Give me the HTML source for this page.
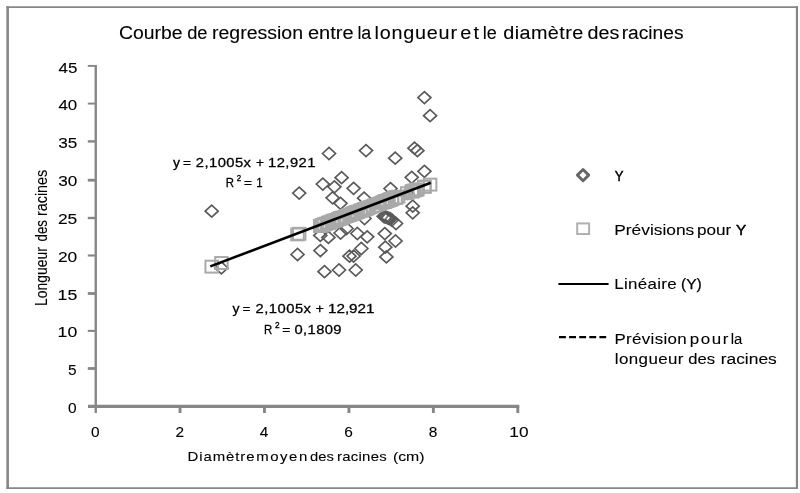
<!DOCTYPE html>
<html><head><meta charset="utf-8"><title>Courbe de regression</title>
<style>html,body{margin:0;padding:0;background:#fff;}body{width:800px;height:493px;overflow:hidden;}svg{display:block;filter:grayscale(1);}text{font-family:"Liberation Sans",sans-serif;fill:#000;stroke:#000;stroke-width:0.1px;}g.b text{stroke-width:inherit;}</style>
</head><body>
<svg width="800" height="493" viewBox="0 0 800 493">
<rect x="0" y="0" width="800" height="493" fill="#fff"/>
<g stroke="#868686"><line x1="7.65" y1="6.2" x2="7.65" y2="489" stroke-width="2.6"/><line x1="796.95" y1="6.2" x2="796.95" y2="489" stroke-width="2.2"/><line x1="6.4" y1="7.1" x2="798" y2="7.1" stroke-width="1.9"/><line x1="6.4" y1="488.1" x2="798" y2="488.1" stroke-width="1.8"/></g>
<g stroke="#868686" fill="none">
<line x1="95.75" y1="64.95" x2="95.75" y2="413" stroke-width="2.4"/>
<line x1="88" y1="406.4" x2="519.3" y2="406.4" stroke-width="3.2"/>
<line x1="87.8" y1="65.90" x2="95.6" y2="65.90" stroke-width="1.9"/>
<line x1="87.8" y1="103.60" x2="95.6" y2="103.60" stroke-width="1.9"/>
<line x1="87.8" y1="141.40" x2="95.6" y2="141.40" stroke-width="2.4"/>
<line x1="87.8" y1="180.20" x2="95.6" y2="180.20" stroke-width="2.8"/>
<line x1="87.8" y1="218.00" x2="95.6" y2="218.00" stroke-width="2.4"/>
<line x1="87.8" y1="255.50" x2="95.6" y2="255.50" stroke-width="2.1"/>
<line x1="87.8" y1="293.50" x2="95.6" y2="293.50" stroke-width="2.8"/>
<line x1="87.8" y1="330.90" x2="95.6" y2="330.90" stroke-width="2.1"/>
<line x1="87.8" y1="368.50" x2="95.6" y2="368.50" stroke-width="2.8"/>
<line x1="180.04" y1="406.4" x2="180.04" y2="413" stroke-width="2.9"/>
<line x1="264.48" y1="406.4" x2="264.48" y2="413" stroke-width="2.9"/>
<line x1="348.92" y1="406.4" x2="348.92" y2="413" stroke-width="2.9"/>
<line x1="433.36" y1="406.4" x2="433.36" y2="413" stroke-width="2.9"/>
<line x1="517.80" y1="406.4" x2="517.80" y2="413" stroke-width="2.9"/>
</g>
<g fill="none" stroke="#5a5a5a" stroke-width="1.7" stroke-linejoin="miter">
<path d="M205.2 211.2L211.7 205.2L218.2 211.2L211.7 217.2Z"/>
<path d="M322.5 153.5L329.0 147.5L335.5 153.5L329.0 159.5Z"/>
<path d="M359.5 150.6L366.0 144.6L372.5 150.6L366.0 156.6Z"/>
<path d="M388.7 158.2L395.2 152.2L401.7 158.2L395.2 164.2Z"/>
<path d="M335.1 177.7L341.6 171.7L348.1 177.7L341.6 183.7Z"/>
<path d="M316.3 184.1L322.8 178.1L329.3 184.1L322.8 190.1Z"/>
<path d="M327.9 186.8L334.4 180.8L340.9 186.8L334.4 192.8Z"/>
<path d="M292.7 193.1L299.2 187.1L305.7 193.1L299.2 199.1Z"/>
<path d="M347.1 188.3L353.6 182.3L360.1 188.3L353.6 194.3Z"/>
<path d="M326.1 197.8L332.6 191.8L339.1 197.8L332.6 203.8Z"/>
<path d="M357.6 198.2L364.1 192.2L370.6 198.2L364.1 204.2Z"/>
<path d="M384.0 188.6L390.5 182.6L397.0 188.6L390.5 194.6Z"/>
<path d="M417.9 97.6L424.4 91.6L430.9 97.6L424.4 103.6Z"/>
<path d="M423.6 115.7L430.1 109.7L436.6 115.7L430.1 121.7Z"/>
<path d="M408.0 148.2L414.5 142.2L421.0 148.2L414.5 154.2Z"/>
<path d="M410.9 150.7L417.4 144.7L423.9 150.7L417.4 156.7Z"/>
<path d="M417.9 171.3L424.4 165.3L430.9 171.3L424.4 177.3Z"/>
<path d="M405.2 177.3L411.7 171.3L418.2 177.3L411.7 183.3Z"/>
<path d="M334.0 203.3L340.5 197.3L347.0 203.3L340.5 209.3Z"/>
<path d="M378.3 216.9L384.8 210.9L391.3 216.9L384.8 222.9Z"/>
<path d="M381.4 217.9L387.9 211.9L394.4 217.9L387.9 223.9Z"/>
<path d="M383.9 218.9L390.4 212.9L396.9 218.9L390.4 224.9Z"/>
<path d="M389.5 223.5L396.0 217.5L402.5 223.5L396.0 229.5Z"/>
<path d="M406.2 206.2L412.7 200.2L419.2 206.2L412.7 212.2Z"/>
<path d="M406.2 212.8L412.7 206.8L419.2 212.8L412.7 218.8Z"/>
<path d="M313.8 235.4L320.3 229.4L326.8 235.4L320.3 241.4Z"/>
<path d="M321.9 237.4L328.4 231.4L334.9 237.4L328.4 243.4Z"/>
<path d="M334.1 233.0L340.6 227.0L347.1 233.0L340.6 239.0Z"/>
<path d="M340.0 228.5L346.5 222.5L353.0 228.5L346.5 234.5Z"/>
<path d="M350.8 233.5L357.3 227.5L363.8 233.5L357.3 239.5Z"/>
<path d="M360.7 236.8L367.2 230.8L373.7 236.8L367.2 242.8Z"/>
<path d="M358.0 218.5L364.5 212.5L371.0 218.5L364.5 224.5Z"/>
<path d="M378.3 233.6L384.8 227.6L391.3 233.6L384.8 239.6Z"/>
<path d="M389.0 241.0L395.5 235.0L402.0 241.0L395.5 247.0Z"/>
<path d="M378.8 247.2L385.3 241.2L391.8 247.2L385.3 253.2Z"/>
<path d="M379.9 256.9L386.4 250.9L392.9 256.9L386.4 262.9Z"/>
<path d="M354.8 248.5L361.3 242.5L367.8 248.5L361.3 254.5Z"/>
<path d="M313.9 250.6L320.4 244.6L326.9 250.6L320.4 256.6Z"/>
<path d="M291.0 254.5L297.5 248.5L304.0 254.5L297.5 260.5Z"/>
<path d="M318.0 271.7L324.5 265.7L331.0 271.7L324.5 277.7Z"/>
<path d="M332.5 270.0L339.0 264.0L345.5 270.0L339.0 276.0Z"/>
<path d="M349.2 270.0L355.7 264.0L362.2 270.0L355.7 276.0Z"/>
<path d="M343.0 256.2L349.5 250.2L356.0 256.2L349.5 262.2Z"/>
<path d="M347.1 256.1L353.6 250.1L360.1 256.1L353.6 262.1Z"/>
<path d="M214.9 267.9L221.4 261.9L227.9 267.9L221.4 273.9Z"/>
<path d="M377.1 216.3L383.6 210.3L390.1 216.3L383.6 222.3Z"/>
<path d="M379.8 217.4L386.3 211.4L392.8 217.4L386.3 223.4Z"/>
<path d="M382.6 218.5L389.1 212.5L395.6 218.5L389.1 224.5Z"/>
<path d="M385.3 220.0L391.8 214.0L398.3 220.0L391.8 226.0Z"/>
<path d="M400.8 193.4L407.3 187.4L413.8 193.4L407.3 199.4Z"/>
</g>
<g stroke="#fff" stroke-linecap="butt"><line x1="383.6" y1="218.4" x2="386.4" y2="215.2" stroke-width="2"/><line x1="387.0" y1="219.7" x2="389.4" y2="217.0" stroke-width="1.8"/></g>
<g fill="none" stroke="#a9a9a9" stroke-width="2">
<rect x="205.45" y="260.70" width="12.5" height="11.9"/>
<rect x="215.15" y="257.06" width="12.5" height="11.9"/>
<rect x="291.25" y="228.47" width="12.5" height="11.9"/>
<rect x="292.95" y="227.83" width="12.5" height="11.9"/>
<rect x="313.95" y="219.95" width="12.5" height="11.9"/>
<rect x="314.05" y="219.91" width="12.5" height="11.9"/>
<rect x="314.15" y="219.87" width="12.5" height="11.9"/>
<rect x="315.95" y="219.20" width="12.5" height="11.9"/>
<rect x="316.55" y="218.97" width="12.5" height="11.9"/>
<rect x="317.95" y="218.44" width="12.5" height="11.9"/>
<rect x="318.25" y="218.33" width="12.5" height="11.9"/>
<rect x="319.95" y="217.69" width="12.5" height="11.9"/>
<rect x="321.95" y="216.94" width="12.5" height="11.9"/>
<rect x="322.15" y="216.87" width="12.5" height="11.9"/>
<rect x="322.75" y="216.64" width="12.5" height="11.9"/>
<rect x="323.95" y="216.19" width="12.5" height="11.9"/>
<rect x="325.95" y="215.44" width="12.5" height="11.9"/>
<rect x="326.35" y="215.29" width="12.5" height="11.9"/>
<rect x="327.95" y="214.69" width="12.5" height="11.9"/>
<rect x="328.15" y="214.61" width="12.5" height="11.9"/>
<rect x="329.95" y="213.94" width="12.5" height="11.9"/>
<rect x="331.95" y="213.19" width="12.5" height="11.9"/>
<rect x="332.75" y="212.89" width="12.5" height="11.9"/>
<rect x="333.95" y="212.44" width="12.5" height="11.9"/>
<rect x="334.25" y="212.32" width="12.5" height="11.9"/>
<rect x="334.35" y="212.28" width="12.5" height="11.9"/>
<rect x="335.35" y="211.91" width="12.5" height="11.9"/>
<rect x="335.95" y="211.68" width="12.5" height="11.9"/>
<rect x="337.95" y="210.93" width="12.5" height="11.9"/>
<rect x="339.95" y="210.18" width="12.5" height="11.9"/>
<rect x="340.25" y="210.07" width="12.5" height="11.9"/>
<rect x="341.95" y="209.43" width="12.5" height="11.9"/>
<rect x="343.25" y="208.94" width="12.5" height="11.9"/>
<rect x="343.95" y="208.68" width="12.5" height="11.9"/>
<rect x="345.95" y="207.93" width="12.5" height="11.9"/>
<rect x="347.35" y="207.40" width="12.5" height="11.9"/>
<rect x="347.35" y="207.40" width="12.5" height="11.9"/>
<rect x="347.95" y="207.18" width="12.5" height="11.9"/>
<rect x="349.45" y="206.61" width="12.5" height="11.9"/>
<rect x="349.95" y="206.43" width="12.5" height="11.9"/>
<rect x="351.05" y="206.01" width="12.5" height="11.9"/>
<rect x="351.95" y="205.67" width="12.5" height="11.9"/>
<rect x="353.95" y="204.92" width="12.5" height="11.9"/>
<rect x="355.05" y="204.51" width="12.5" height="11.9"/>
<rect x="355.95" y="204.17" width="12.5" height="11.9"/>
<rect x="357.85" y="203.46" width="12.5" height="11.9"/>
<rect x="357.95" y="203.42" width="12.5" height="11.9"/>
<rect x="358.25" y="203.31" width="12.5" height="11.9"/>
<rect x="359.75" y="202.74" width="12.5" height="11.9"/>
<rect x="359.95" y="202.67" width="12.5" height="11.9"/>
<rect x="360.95" y="202.29" width="12.5" height="11.9"/>
<rect x="361.95" y="201.92" width="12.5" height="11.9"/>
<rect x="363.95" y="201.17" width="12.5" height="11.9"/>
<rect x="365.95" y="200.42" width="12.5" height="11.9"/>
<rect x="367.95" y="199.66" width="12.5" height="11.9"/>
<rect x="369.95" y="198.91" width="12.5" height="11.9"/>
<rect x="371.95" y="198.16" width="12.5" height="11.9"/>
<rect x="373.95" y="197.41" width="12.5" height="11.9"/>
<rect x="375.95" y="196.66" width="12.5" height="11.9"/>
<rect x="377.35" y="196.13" width="12.5" height="11.9"/>
<rect x="377.95" y="195.91" width="12.5" height="11.9"/>
<rect x="378.55" y="195.68" width="12.5" height="11.9"/>
<rect x="378.55" y="195.68" width="12.5" height="11.9"/>
<rect x="379.05" y="195.50" width="12.5" height="11.9"/>
<rect x="379.95" y="195.16" width="12.5" height="11.9"/>
<rect x="380.05" y="195.12" width="12.5" height="11.9"/>
<rect x="380.15" y="195.08" width="12.5" height="11.9"/>
<rect x="381.65" y="194.52" width="12.5" height="11.9"/>
<rect x="381.95" y="194.41" width="12.5" height="11.9"/>
<rect x="382.85" y="194.07" width="12.5" height="11.9"/>
<rect x="383.95" y="193.66" width="12.5" height="11.9"/>
<rect x="384.15" y="193.58" width="12.5" height="11.9"/>
<rect x="384.25" y="193.54" width="12.5" height="11.9"/>
<rect x="385.55" y="193.05" width="12.5" height="11.9"/>
<rect x="385.95" y="192.90" width="12.5" height="11.9"/>
<rect x="387.95" y="192.15" width="12.5" height="11.9"/>
<rect x="388.95" y="191.78" width="12.5" height="11.9"/>
<rect x="389.25" y="191.66" width="12.5" height="11.9"/>
<rect x="389.75" y="191.48" width="12.5" height="11.9"/>
<rect x="389.95" y="191.40" width="12.5" height="11.9"/>
<rect x="391.95" y="190.65" width="12.5" height="11.9"/>
<rect x="401.05" y="187.23" width="12.5" height="11.9"/>
<rect x="405.45" y="185.58" width="12.5" height="11.9"/>
<rect x="406.45" y="185.20" width="12.5" height="11.9"/>
<rect x="406.45" y="185.20" width="12.5" height="11.9"/>
<rect x="408.25" y="184.53" width="12.5" height="11.9"/>
<rect x="409.95" y="183.89" width="12.5" height="11.9"/>
<rect x="411.15" y="183.44" width="12.5" height="11.9"/>
<rect x="418.15" y="180.81" width="12.5" height="11.9"/>
<rect x="418.15" y="180.81" width="12.5" height="11.9"/>
<rect x="423.85" y="178.67" width="12.5" height="11.9"/>
</g>
<g stroke="#dcdcdc" stroke-width="1.1">
<line x1="319.3" y1="220.3" x2="319.3" y2="222.5"/>
<line x1="319.3" y1="226.8" x2="319.3" y2="229.2"/>
<line x1="324.5" y1="225.0" x2="324.5" y2="227.6"/>
<line x1="336.9" y1="220.2" x2="336.9" y2="223.0"/>
<line x1="341.8" y1="219.1" x2="341.8" y2="221.9"/>
<line x1="353.0" y1="214.9" x2="353.0" y2="217.1"/>
<line x1="365.4" y1="211.2" x2="365.4" y2="213.6"/>
<line x1="387.4" y1="201.4" x2="387.4" y2="204.0"/>
<line x1="382.1" y1="203.1" x2="382.1" y2="204.9"/>
<line x1="368.3" y1="208.5" x2="368.3" y2="210.9"/>
<line x1="365.3" y1="210.7" x2="365.3" y2="212.3"/>
<line x1="375.8" y1="210.4" x2="378.8" y2="210.4"/>
</g>
<g stroke="#fff" stroke-width="1.2">
<line x1="396.4" y1="197.7" x2="396.4" y2="202.2"/>
<line x1="400.1" y1="196.9" x2="400.1" y2="202.4"/>
</g>
<line x1="210.3" y1="266.4" x2="430.8" y2="182.8" stroke="#000" stroke-width="2.6" stroke-linecap="butt"/>
<text id="ti0" x="118.98" y="38.9" font-size="18.0" textLength="63.54" lengthAdjust="spacingAndGlyphs">Courbe</text>
<text id="ti1" x="187.20" y="38.9" font-size="18.0" textLength="20.36" lengthAdjust="spacingAndGlyphs">de</text>
<text id="ti2" x="211.96" y="38.9" font-size="18.0" textLength="91.07" lengthAdjust="spacingAndGlyphs">regression</text>
<text id="ti3" x="307.97" y="38.9" font-size="18.0" textLength="45.56" lengthAdjust="spacingAndGlyphs">entre</text>
<text id="ti4" x="357.41" y="38.9" font-size="18.0" textLength="13.84" lengthAdjust="spacingAndGlyphs">la</text>
<text id="ti5" transform="translate(374.50,38.9) scale(1.100,1)" font-size="18.0" textLength="75.00" lengthAdjust="spacing">longueur</text>
<text id="ti6" transform="translate(460.25,38.9) scale(1.100,1)" font-size="18.0" textLength="17.05" lengthAdjust="spacing">et</text>
<text id="ti7" x="482.83" y="38.9" font-size="18.0" textLength="14.01" lengthAdjust="spacingAndGlyphs">le</text>
<text id="ti8" transform="translate(503.25,38.9) scale(1.100,1)" font-size="18.0" textLength="72.73" lengthAdjust="spacing">diamètre</text>
<text id="ti9" x="587.47" y="38.9" font-size="18.0" textLength="31.80" lengthAdjust="spacingAndGlyphs">des</text>
<text id="ti10" x="621.72" y="38.9" font-size="18.0" textLength="61.80" lengthAdjust="spacingAndGlyphs">racines</text>
<text id="xl0" transform="translate(187.50,460.7) scale(1.100,1)" font-size="13.6" textLength="60.91" lengthAdjust="spacing">Diamètre</text>
<text id="xl1" transform="translate(256.25,460.7) scale(1.100,1)" font-size="13.6" textLength="46.36" lengthAdjust="spacing">moyen</text>
<text id="xl2" x="309.98" y="460.7" font-size="13.6" textLength="23.79" lengthAdjust="spacingAndGlyphs">des</text>
<text id="xl3" transform="translate(337.00,460.7) scale(1.100,1)" font-size="13.6" textLength="45.23" lengthAdjust="spacing">racines</text>
<text id="xl4" x="392.94" y="460.7" font-size="13.6" textLength="31.61" lengthAdjust="spacingAndGlyphs">(cm)</text>
<g class="b" style="stroke-width:0.3px">
<text id="e10" transform="translate(173.00,166.5) scale(1.044,1)" font-size="13.4">y</text>
</g>
<g class="b" style="stroke-width:0.3px">
<text id="e11" transform="translate(183.00,166.5) scale(1.022,1)" font-size="13.4">=</text>
</g>
<g class="b" style="stroke-width:0.3px">
<text id="e12" transform="translate(195.75,166.5) scale(1.100,1)" font-size="13.4" textLength="50.23" lengthAdjust="spacing">2,1005x</text>
</g>
<g class="b" style="stroke-width:0.3px">
<text id="e13" transform="translate(256.00,166.5) scale(1.022,1)" font-size="13.4">+</text>
</g>
<g class="b" style="stroke-width:0.3px">
<text id="e14" transform="translate(268.00,166.5) scale(1.100,1)" font-size="13.4" textLength="43.18" lengthAdjust="spacing">12,921</text>
</g>
<g class="b" style="stroke-width:0.3px">
<text id="e20" transform="translate(225.75,186.8) scale(0.850,1)" font-size="13.4">R</text>
</g>
<g class="b" style="stroke-width:0.3px">
<text id="e21" transform="translate(244.00,186.8) scale(1.022,1)" font-size="13.4">=</text>
</g>
<g class="b" style="stroke-width:0.3px">
<text id="e22" transform="translate(256.25,186.8) scale(0.850,1)" font-size="13.4">1</text>
</g>
<g class="b" style="stroke-width:0.35px">
<text id="e30" transform="translate(236.68,180.6) scale(0.859,1)" font-size="9.2">2</text>
</g>
<g class="b" style="stroke-width:0.3px">
<text id="e40" transform="translate(232.38,313) scale(1.044,1)" font-size="13.4">y</text>
</g>
<g class="b" style="stroke-width:0.3px">
<text id="e41" transform="translate(242.60,313) scale(0.996,1)" font-size="13.4">=</text>
</g>
<g class="b" style="stroke-width:0.3px">
<text id="e42" transform="translate(255.50,313) scale(1.100,1)" font-size="13.4" textLength="50.45" lengthAdjust="spacing">2,1005x</text>
</g>
<g class="b" style="stroke-width:0.3px">
<text id="e43" transform="translate(315.55,313) scale(1.073,1)" font-size="13.4">+</text>
</g>
<g class="b" style="stroke-width:0.3px">
<text id="e44" x="327.97" y="313" font-size="13.4" textLength="46.55" lengthAdjust="spacingAndGlyphs">12,921</text>
</g>
<g class="b" style="stroke-width:0.3px">
<text id="e50" transform="translate(264.00,333.6) scale(0.850,1)" font-size="13.4">R</text>
</g>
<g class="b" style="stroke-width:0.3px">
<text id="e51" transform="translate(282.37,333.6) scale(1.022,1)" font-size="13.4">=</text>
</g>
<g class="b" style="stroke-width:0.3px">
<text id="e52" transform="translate(294.50,333.6) scale(1.100,1)" font-size="13.4" textLength="42.73" lengthAdjust="spacing">0,1809</text>
</g>
<g class="b" style="stroke-width:0.35px">
<text id="e60" transform="translate(275.08,327.6) scale(0.898,1)" font-size="9.2">2</text>
</g>
<g class="b" style="stroke-width:0.5px">
<text id="l10" transform="translate(614.80,180.9) scale(0.850,1)" font-size="15.4">Y</text>
</g>
<text id="l20" x="614.22" y="235.4" font-size="15.4" textLength="80.04" lengthAdjust="spacingAndGlyphs">Prévisions</text>
<text id="l21" x="696.96" y="235.4" font-size="15.4" textLength="34.29" lengthAdjust="spacingAndGlyphs">pour</text>
<g class="b" style="stroke-width:0.5px">
<text id="l22" transform="translate(735.90,235.4) scale(0.994,1)" font-size="15.4">Y</text>
</g>
<text id="l30" transform="translate(614.25,289.3) scale(1.100,1)" font-size="15.4" textLength="56.82" lengthAdjust="spacing">Linéaire</text>
<g class="b" style="stroke-width:0.25px">
<text id="l31" x="680.94" y="289.3" font-size="15.4" textLength="20.88" lengthAdjust="spacingAndGlyphs">(Y)</text>
</g>
<text id="l40" transform="translate(614.50,343.7) scale(1.100,1)" font-size="15.4" textLength="65.68" lengthAdjust="spacing">Prévision</text>
<text id="l41" transform="translate(689.75,343.7) scale(1.100,1)" font-size="15.4" textLength="35.23" lengthAdjust="spacing">pour</text>
<text id="l42" x="730.70" y="343.7" font-size="15.4" textLength="11.56" lengthAdjust="spacingAndGlyphs">la</text>
<text id="l50" transform="translate(614.75,364.3) scale(1.100,1)" font-size="15.4" textLength="62.50" lengthAdjust="spacing">longueur</text>
<text id="l51" x="688.23" y="364.3" font-size="15.4" textLength="26.79" lengthAdjust="spacingAndGlyphs">des</text>
<text id="l52" x="720.72" y="364.3" font-size="15.4" textLength="56.04" lengthAdjust="spacingAndGlyphs">racines</text>
<text id="ty0" transform="translate(68.08,413.1) scale(1.010,1)" font-size="15.3">0</text>
<text id="ty1" transform="translate(68.08,375.27) scale(1.010,1)" font-size="15.3">5</text>
<text id="ty2" x="57.63" y="337.43" font-size="15.3" textLength="19.66" lengthAdjust="spacingAndGlyphs">10</text>
<text id="ty3" x="57.63" y="299.6" font-size="15.3" textLength="19.69" lengthAdjust="spacingAndGlyphs">15</text>
<text id="ty4" x="57.94" y="261.77" font-size="15.3" textLength="19.35" lengthAdjust="spacingAndGlyphs">20</text>
<text id="ty5" x="57.94" y="223.93" font-size="15.3" textLength="19.37" lengthAdjust="spacingAndGlyphs">25</text>
<text id="ty6" x="58.22" y="186.1" font-size="15.3" textLength="19.06" lengthAdjust="spacingAndGlyphs">30</text>
<text id="ty7" x="58.22" y="148.27" font-size="15.3" textLength="19.08" lengthAdjust="spacingAndGlyphs">35</text>
<text id="ty8" x="58.49" y="110.43" font-size="15.3" textLength="18.78" lengthAdjust="spacingAndGlyphs">40</text>
<text id="ty9" x="58.49" y="72.6" font-size="15.3" textLength="18.80" lengthAdjust="spacingAndGlyphs">45</text>
<text id="tx0" transform="translate(91.07,436.8) scale(1.010,1)" font-size="15.3">0</text>
<text id="tx1" transform="translate(175.40,436.8) scale(1.010,1)" font-size="15.3">2</text>
<text id="tx2" transform="translate(259.85,436.8) scale(1.010,1)" font-size="15.3">4</text>
<text id="tx3" transform="translate(344.30,436.8) scale(1.010,1)" font-size="15.3">6</text>
<text id="tx4" transform="translate(428.75,436.8) scale(1.010,1)" font-size="15.3">8</text>
<text id="tx5" x="509.38" y="436.8" font-size="15.3" textLength="19.17" lengthAdjust="spacingAndGlyphs">10</text>
<g transform="translate(47.4,305) rotate(-90)">
<text id="yl0" x="-1.02" y="0" font-size="16.0" textLength="58.78" lengthAdjust="spacingAndGlyphs">Longueur</text>
<text id="yl1" x="63.47" y="0" font-size="16.0" textLength="21.55" lengthAdjust="spacingAndGlyphs">des</text>
<text id="yl2" x="88.97" y="0" font-size="16.0" textLength="46.29" lengthAdjust="spacingAndGlyphs">racines</text>
</g>
<path d="M577.4 175.1L583.05 169.45L588.6999999999999 175.1L583.05 180.75Z" fill="none" stroke="#666" stroke-width="2.9" stroke-linejoin="round"/>
<rect x="577.2" y="223.4" width="11.9" height="10.6" fill="none" stroke="#b0b0b0" stroke-width="2"/>
<line x1="558.4" y1="284" x2="608.6" y2="284" stroke="#000" stroke-width="2"/>
<line x1="559" y1="337.1" x2="606.2" y2="337.1" stroke="#000" stroke-width="2.4" stroke-dasharray="6.9 3.2"/>
</svg>
</body></html>
